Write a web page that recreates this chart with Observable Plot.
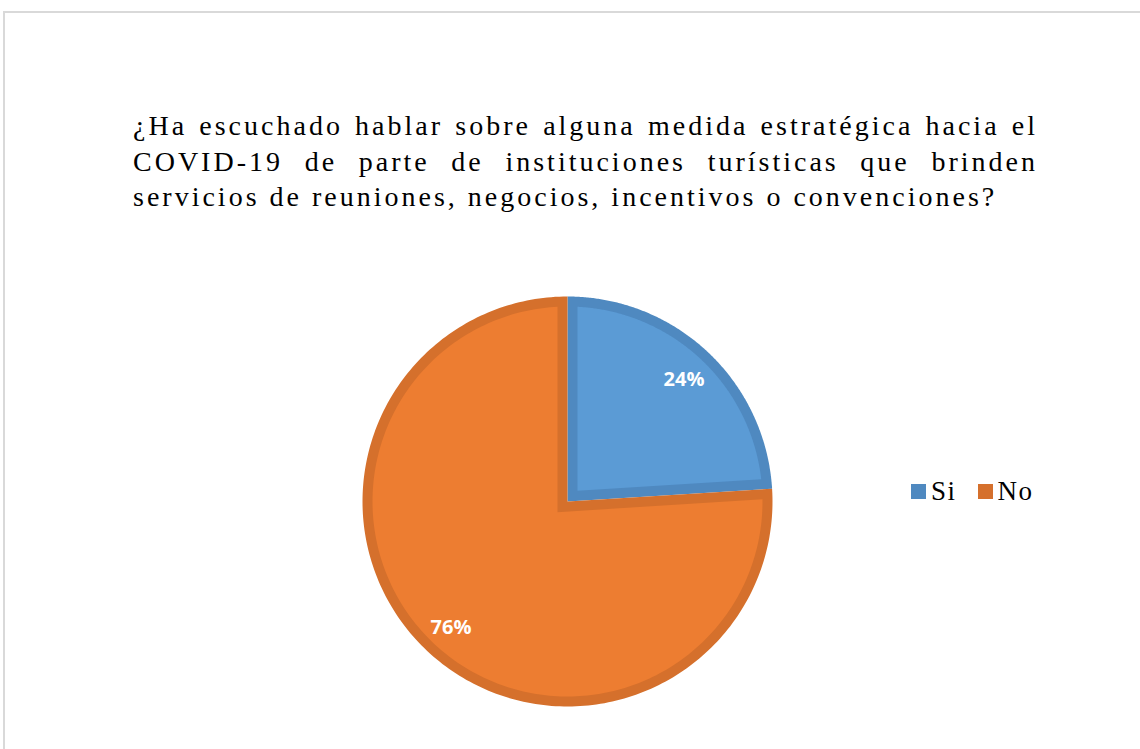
<!DOCTYPE html>
<html>
<head>
<meta charset="utf-8">
<script src="https://cdn.jsdelivr.net/npm/d3@7"></script>
<script src="https://cdn.jsdelivr.net/npm/@observablehq/plot@0.6"></script>
<style>
  html, body { margin: 0; padding: 0; background: #fff; overflow: hidden; }
  #page { position: relative; width: 1140px; height: 749px; }
  #frame { position: absolute; left: 3px; top: 11px; width: 1200px; height: 800px; border: 2px solid #d9d9d9; box-sizing: border-box; }
  #title { position: absolute; left: 133px; top: 108px; width: 905px; font-family: "Liberation Serif", "Times New Roman", serif; font-size: 28px; line-height: 35.5px; color: #000; letter-spacing: 3px; }
  #title div { white-space: nowrap; }
  #title .j { text-align: justify; text-align-last: justify; }
  #chart { position: absolute; left: 0; top: 0; }
  #legend { position: absolute; left: 911px; top: 476px; font-family: "Liberation Serif", "Times New Roman", serif; font-size: 27px; letter-spacing: 1.5px; color: #000; display: flex; align-items: center; }
  .item { display: flex; align-items: center; margin-right: 21px; }
  .sw { width: 15px; height: 15px; margin-right: 5px; }
</style>
</head>
<body>
<div id="page">
  <div id="frame"></div>
  <div id="title"></div>
  <div id="chart"></div>
  <div id="legend"></div>
</div>
<script>
const titleLines = [
  "¿Ha escuchado hablar sobre alguna medida estratégica hacia el",
  "COVID-19 de parte de instituciones turísticas que brinden",
  "servicios de reuniones, negocios, incentivos o convenciones?"
];
const categories = ["Si", "No"];
const values = [24, 76];
const labels = ["24%", "76%"];
const fillColors = ["#5B9BD5", "#ED7D31"];
const edgeColors = ["#4F89C0", "#D5702C"];

// Title
const titleEl = document.getElementById("title");
titleLines.forEach((t, i) => {
  const d = document.createElement("div");
  d.textContent = t;
  if (i < titleLines.length - 1) d.className = "j";
  titleEl.appendChild(d);
});

// Legend
const legendEl = document.getElementById("legend");
categories.forEach((c, i) => {
  const it = document.createElement("div");
  it.className = "item";
  const sw = document.createElement("div");
  sw.className = "sw";
  sw.style.background = edgeColors[i];
  const tx = document.createElement("span");
  tx.textContent = c;
  it.appendChild(sw); it.appendChild(tx);
  legendEl.appendChild(it);
});

// Pie geometry in data units (radius 1)
const pie = d3.pie().sort(null).value(d => d)(values);
const band = 10 / 205;
const N = 240;
function arcPts(a0, a1, r) {
  const pts = [];
  for (let k = 0; k <= N; k++) {
    const a = a0 + (a1 - a0) * k / N;
    pts.push([r * Math.sin(a), r * Math.cos(a)]);
  }
  return pts;
}
const outer = [], inner = [], labelPts = [];
pie.forEach((p, i) => {
  const a0 = p.startAngle, a1 = p.endAngle;
  [[0, 0], ...arcPts(a0, a1, 1)].forEach(([x, y]) => outer.push({x, y, k: categories[i], c: edgeColors[i]}));
  const R = 1 - band;
  const dl = Math.asin(band / R);
  const m = (a0 + a1) / 2;
  const ad = band / Math.sin((a1 - a0) / 2);
  [[ad * Math.sin(m), ad * Math.cos(m)], ...arcPts(a0 + dl, a1 - dl, R)].forEach(([x, y]) => inner.push({x, y, k: categories[i], c: fillColors[i]}));
  labelPts.push({x: 0.83 * Math.sin(m), y: 0.83 * Math.cos(m), t: labels[i]});
});

const marks = [];
categories.forEach(c => {
  marks.push(Plot.line(outer.filter(d => d.k === c), {x: "x", y: "y", fill: outer.find(d => d.k === c).c, stroke: "none", curve: "linear-closed"}));
  marks.push(Plot.line(inner.filter(d => d.k === c), {x: "x", y: "y", fill: inner.find(d => d.k === c).c, stroke: "none", curve: "linear-closed"}));
});
marks.push(Plot.text(labelPts, {x: "x", y: "y", text: "t", fill: "white", fontSize: 20, dy: 2, fontWeight: "bold", fontFamily: "'Open Sans', sans-serif"}));

const svg = Plot.plot({
  width: 1140,
  height: 749,
  margin: 0,
  x: {domain: [-1, 1], range: [362, 772], axis: null},
  y: {domain: [-1, 1], range: [706, 296], axis: null},
  style: {background: "transparent"},
  marks
});
document.getElementById("chart").appendChild(svg);
</script>
</body>
</html>
